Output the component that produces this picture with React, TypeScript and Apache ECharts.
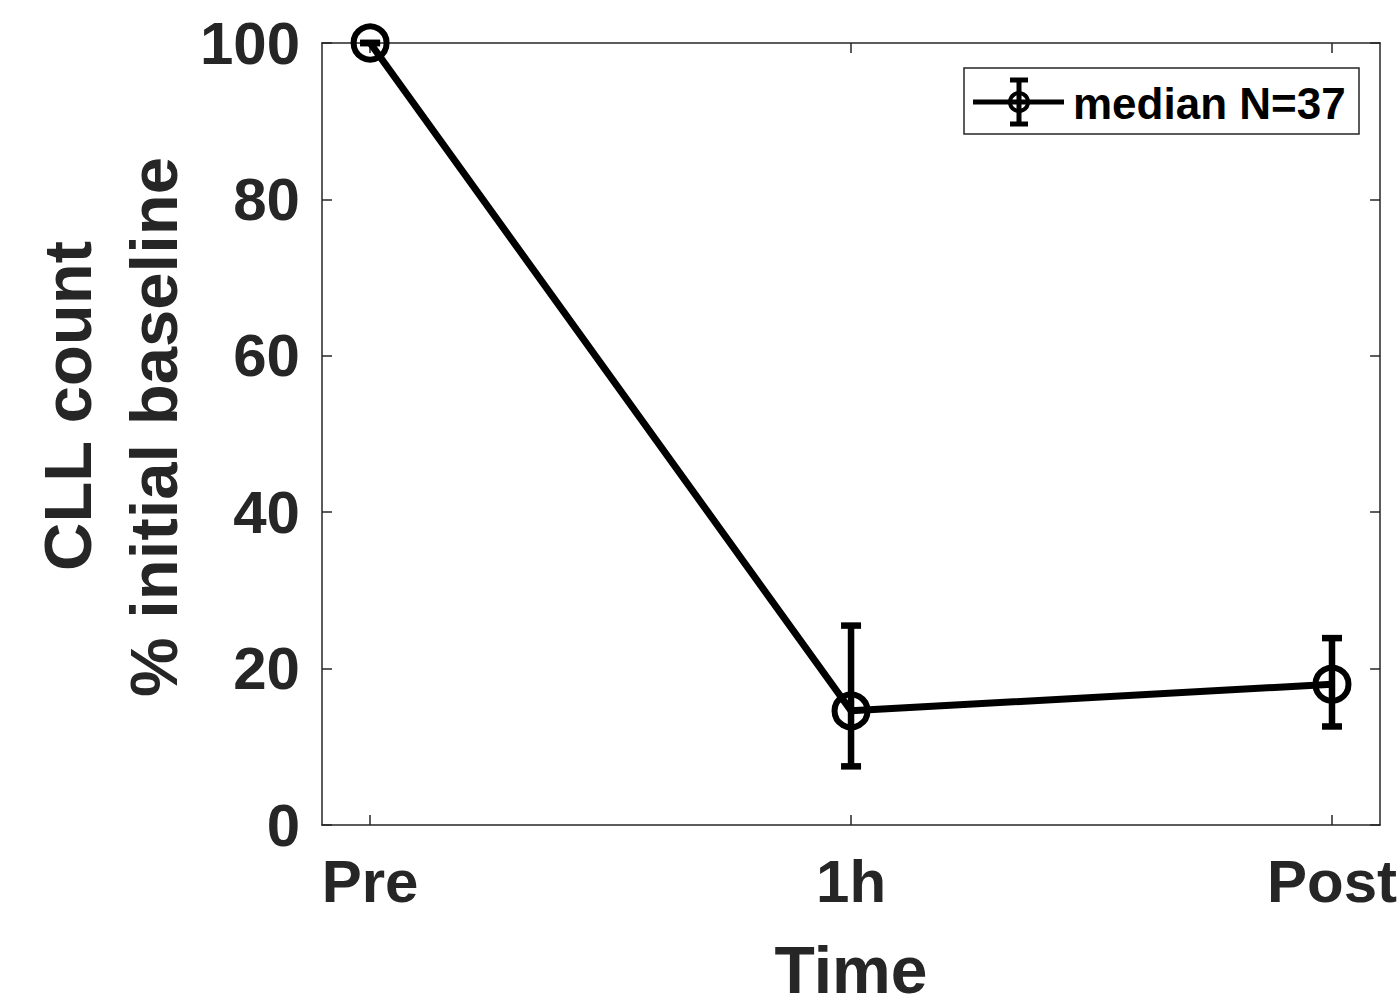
import React, { useEffect, useRef } from "react";
import * as echarts from "echarts";

const categories = ["Pre", "1h", "Post"];
const xPositions = [0, 1, 2];
const medianValues = [100, 14.6, 18.0];
const errLow = [100, 7.5, 12.6];
const errHigh = [100, 25.5, 23.9];
const yTicks = [0, 20, 40, 60, 80, 100];
const legendLabel = "median N=37";
const xTitle = "Time";
const yTitleLines = ["CLL count", "% initial baseline"];

const FONT = "'Liberation Sans', Arial, Helvetica, sans-serif";
const TXT = "#262626";

export default function App() {
  const ref = useRef<HTMLDivElement>(null);
  useEffect(() => {
    if (!ref.current) return;
    const chart = echarts.init(ref.current, undefined, { renderer: "svg" });
    const lineData = xPositions.map((x, i) => [x, medianValues[i]]);
    const errData = xPositions.map((x, i) => [x, errLow[i], errHigh[i]]);
    const axisLineStyle = { color: TXT, width: 1.5 };
    const option: any = {
      animation: false,
      backgroundColor: "#fff",
      grid: { left: 322, top: 43, right: 16, bottom: 178, containLabel: false },
      xAxis: [
        {
          type: "value",
          min: -0.1,
          max: 2.1,
          position: "bottom",
          axisLine: { show: true, onZero: false, lineStyle: axisLineStyle },
          axisTick: { show: true, inside: true, length: 10, customValues: xPositions, lineStyle: axisLineStyle },
          axisLabel: {
            show: true,
            customValues: xPositions,
            formatter: (v: number) => categories[Math.round(v)] ?? "",
            fontSize: 60,
            fontWeight: "bold",
            fontFamily: FONT,
            color: TXT,
            margin: 26,
          },
          splitLine: { show: false },
          name: xTitle,
          nameLocation: "middle",
          nameGap: 112,
          nameTextStyle: { fontSize: 66, fontWeight: "bold", fontFamily: FONT, color: TXT },
        },
        {
          type: "value",
          min: -0.1,
          max: 2.1,
          position: "top",
          axisLine: { show: true, onZero: false, lineStyle: axisLineStyle },
          axisTick: { show: true, inside: true, length: 10, customValues: xPositions, lineStyle: axisLineStyle },
          axisLabel: { show: false },
          splitLine: { show: false },
        },
      ],
      yAxis: [
        {
          type: "value",
          min: yTicks[0],
          max: yTicks[yTicks.length - 1],
          interval: 20,
          position: "left",
          axisLine: { show: true, onZero: false, lineStyle: axisLineStyle },
          axisTick: { show: true, inside: true, length: 10, lineStyle: axisLineStyle },
          axisLabel: {
            fontSize: 60,
            fontWeight: "bold",
            fontFamily: FONT,
            color: TXT,
            margin: 22,
          },
          splitLine: { show: false },
        },
        {
          type: "value",
          min: yTicks[0],
          max: yTicks[yTicks.length - 1],
          interval: 20,
          position: "right",
          axisLine: { show: true, onZero: false, lineStyle: axisLineStyle },
          axisTick: { show: true, inside: true, length: 10, lineStyle: axisLineStyle },
          axisLabel: { show: false },
          splitLine: { show: false },
        },
      ],
      series: [
        {
          type: "custom",
          xAxisIndex: 0,
          yAxisIndex: 0,
          clip: false,
          z: 3,
          data: errData,
          renderItem: (params: any, api: any) => {
            const x = api.value(0);
            const lo = api.coord([x, api.value(1)]);
            const hi = api.coord([x, api.value(2)]);
            const hw = 10;
            const st = { stroke: "#000", lineWidth: 6.5 };
            return {
              type: "group",
              children: [
                { type: "line", shape: { x1: lo[0], y1: lo[1], x2: hi[0], y2: hi[1] }, style: st },
                { type: "line", shape: { x1: hi[0] - hw, y1: hi[1], x2: hi[0] + hw, y2: hi[1] }, style: st },
                { type: "line", shape: { x1: lo[0] - hw, y1: lo[1], x2: lo[0] + hw, y2: lo[1] }, style: st },
              ],
            };
          },
        },
        {
          type: "line",
          name: legendLabel,
          xAxisIndex: 0,
          yAxisIndex: 0,
          clip: false,
          z: 4,
          data: lineData,
          symbol: "circle",
          symbolSize: 33,
          lineStyle: { color: "#000", width: 7 },
          itemStyle: { color: "rgba(0,0,0,0)", borderColor: "#000", borderWidth: 6 },
        },
      ],
      graphic: [
        {
          type: "text",
          x: 67,
          y: 406,
          rotation: Math.PI / 2,
          style: {
            text: yTitleLines[0],
            fontSize: 67,
            fontWeight: "bold",
            fontFamily: FONT,
            fill: TXT,
            align: "center",
            verticalAlign: "middle",
            textAlign: "center",
            textVerticalAlign: "middle",
          },
        },
        {
          type: "text",
          x: 153,
          y: 427,
          rotation: Math.PI / 2,
          style: {
            text: yTitleLines[1],
            fontSize: 67,
            fontWeight: "bold",
            fontFamily: FONT,
            fill: TXT,
            align: "center",
            verticalAlign: "middle",
            textAlign: "center",
            textVerticalAlign: "middle",
          },
        },
        {
          type: "group",
          z: 10,
          children: [
            {
              type: "rect",
              shape: { x: 964, y: 68, width: 395, height: 66 },
              style: { fill: "#fff", stroke: TXT, lineWidth: 1.5 },
            },
            {
              type: "line",
              shape: { x1: 973, y1: 102, x2: 1064, y2: 102 },
              style: { stroke: "#000", lineWidth: 5 },
            },
            {
              type: "line",
              shape: { x1: 1019, y1: 80, x2: 1019, y2: 124 },
              style: { stroke: "#000", lineWidth: 5 },
            },
            {
              type: "line",
              shape: { x1: 1010, y1: 80, x2: 1028, y2: 80 },
              style: { stroke: "#000", lineWidth: 5 },
            },
            {
              type: "line",
              shape: { x1: 1010, y1: 124, x2: 1028, y2: 124 },
              style: { stroke: "#000", lineWidth: 5 },
            },
            {
              type: "circle",
              shape: { cx: 1019, cy: 102, r: 9 },
              style: { fill: "none", stroke: "#000", lineWidth: 4 },
            },
            {
              type: "text",
              x: 1073,
              y: 103,
              style: {
                text: legendLabel,
                fontSize: 44,
                fontWeight: "bold",
                fontFamily: FONT,
                fill: "#000",
                align: "left",
                verticalAlign: "middle",
                textAlign: "left",
                textVerticalAlign: "middle",
              },
            },
          ],
        },
      ],
    };
    chart.setOption(option);
    return () => chart.dispose();
  }, []);
  return (
    <div
      ref={ref}
      style={{ position: "fixed", left: 0, top: 0, width: 1400, height: 1008, background: "#fff" }}
    />
  );
}
